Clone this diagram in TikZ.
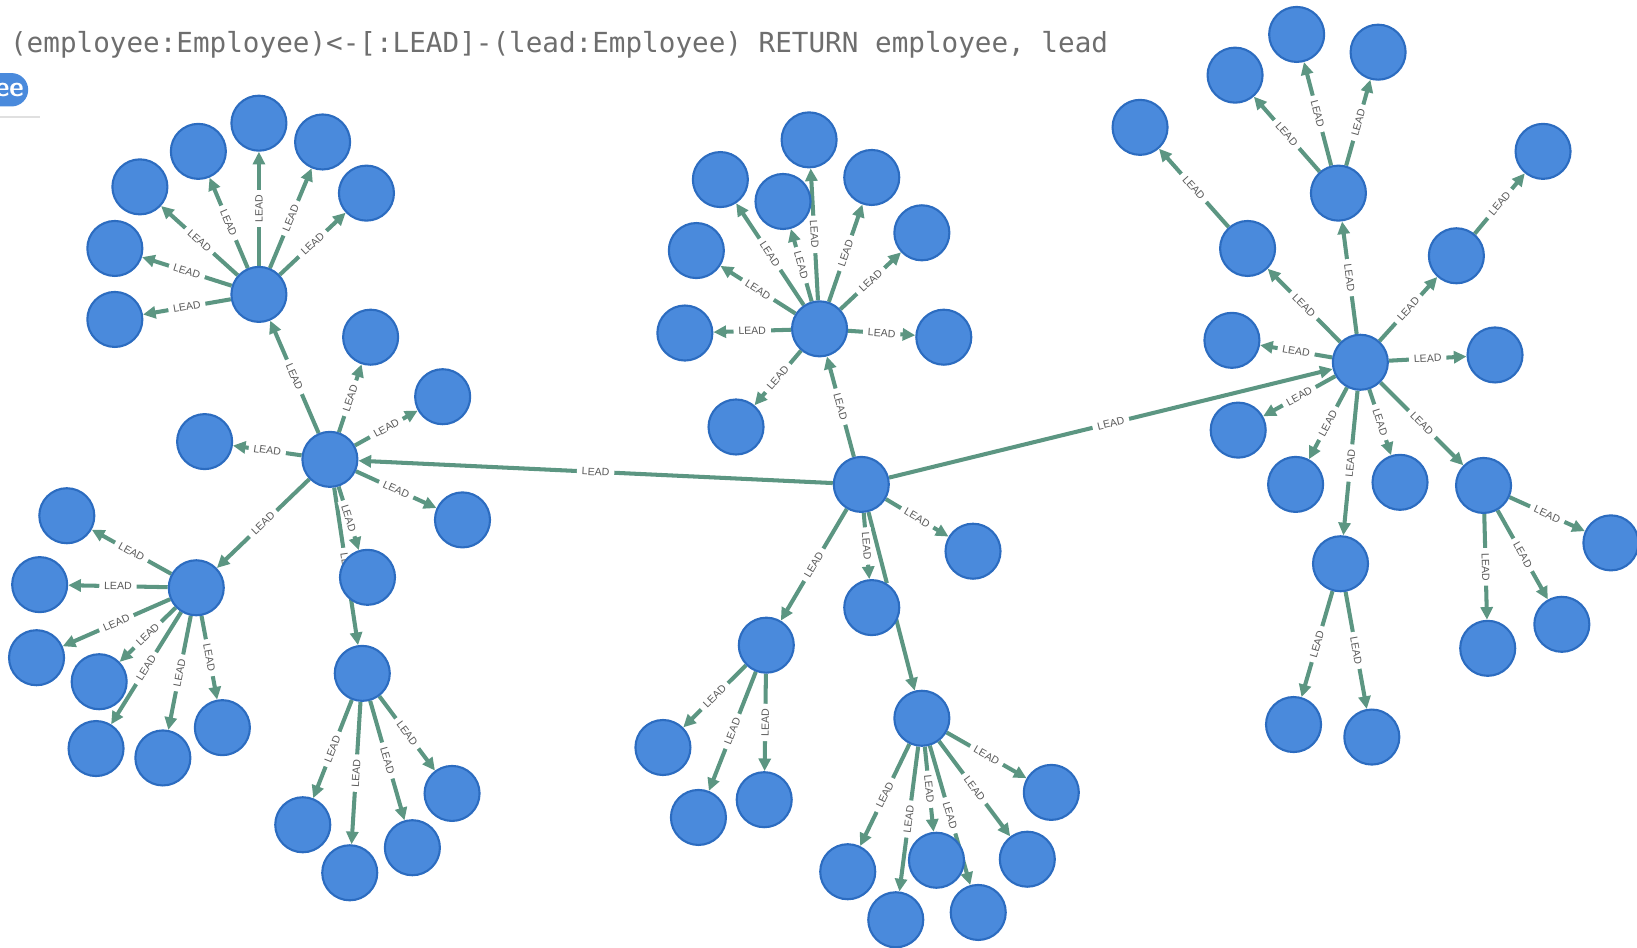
\documentclass[tikz,border=0pt]{standalone}
\usepackage{fontspec}
\usepackage{tikz}
\usepackage{xcolor}
\usetikzlibrary{arrows.meta,backgrounds}
\newfontfamily\codefont{DejaVu Sans Mono}
\newfontfamily\tagfont{Liberation Sans}
\definecolor{nodeblue}{RGB}{74,138,220}
\definecolor{nodeline}{RGB}{44,108,192}
\definecolor{leadgreen}{RGB}{92,150,130}
\definecolor{querygray}{RGB}{110,110,110}
\tikzset{
  emp/.style={circle,fill=nodeblue,draw=nodeline,line width=0.6pt,minimum size=0.55cm,inner sep=0pt},
  lead/.style={->,draw=leadgreen,line width=1.15pt},
  tag/.style={midway,sloped,fill=white,inner xsep=1.4pt,inner ysep=0.6pt,text=black!65,font=\tagfont\fontsize{3}{3.5}\selectfont}
}

\begin{document}
\begin{tikzpicture}[x=0.01044cm,y=-0.01044cm,>={Triangle[length=3.6pt,width=3.4pt]}]
        \useasboundingbox (0,0) rectangle (1568,908);

        % Draw the query line
        \node[anchor=base west,inner sep=0pt,text=querygray,font=\codefont\fontsize{7.86}{9}\selectfont] (query) at (9,50)
          {(employee:Employee)<-[:LEAD]-(lead:Employee) RETURN employee, lead};

        % Draw the label pill
        \fill[nodeblue,rounded corners=0.167cm] (-40,70) rectangle (27,102);
        \node[text=white,inner sep=0pt,font=\sffamily\bfseries\fontsize{8}{9}\selectfont] (pill) at (9,86) {ee};
        \draw[black!12,line width=0.6pt] (0,112) -- (38,112);

        % Draw left clusters
        \node[emp] (a) at (248,282) {};
        \node[emp] (a1) at (110,306) {};  \node[emp] (a2) at (110,238) {};
        \node[emp] (a3) at (134,179) {};  \node[emp] (a4) at (190,145) {};
        \node[emp] (a5) at (248,118) {};  \node[emp] (a6) at (309,136) {};
        \node[emp] (a7) at (351,185) {};
        \node[emp] (b) at (316,440) {};
        \node[emp] (b1) at (355,323) {};  \node[emp] (b2) at (424,380) {};
        \node[emp] (b3) at (443,498) {};  \node[emp] (b4) at (196,423) {};
        \node[emp] (b5) at (352,553) {};
        \node[emp] (c) at (188,563) {};
        \node[emp] (c1) at (64,494) {};   \node[emp] (c2) at (38,560) {};
        \node[emp] (c3) at (35,630) {};   \node[emp] (c4) at (95,653) {};
        \node[emp] (c5) at (92,717) {};   \node[emp] (c6) at (156,726) {};
        \node[emp] (c7) at (213,697) {};
        \node[emp] (e) at (347,645) {};
        \node[emp] (e1) at (290,790) {};  \node[emp] (e2) at (335,836) {};
        \node[emp] (e3) at (395,812) {};  \node[emp] (e4) at (433,760) {};

        % Draw middle clusters
        \node[emp] (d) at (825,464) {};
        \node[emp] (d1) at (932,528) {};  \node[emp] (d2) at (835,582) {};
        \node[emp] (g) at (785,315) {};
        \node[emp] (g1) at (775,134) {};  \node[emp] (g2) at (835,170) {};
        \node[emp] (g3) at (883,223) {};  \node[emp] (g4) at (904,323) {};
        \node[emp] (g5) at (705,409) {};  \node[emp] (g6) at (656,319) {};
        \node[emp] (g7) at (667,240) {};  \node[emp] (g8) at (690,172) {};
        \node[emp] (g9) at (750,193) {};
        \node[emp] (h) at (734,618) {};
        \node[emp] (h1) at (635,716) {};  \node[emp] (h2) at (669,783) {};
        \node[emp] (h3) at (732,766) {};
        \node[emp] (i) at (883,688) {};
        \node[emp] (i1) at (812,835) {};  \node[emp] (i2) at (858,881) {};
        \node[emp] (i3) at (897,824) {};  \node[emp] (i4) at (937,874) {};
        \node[emp] (i5) at (984,823) {};  \node[emp] (i6) at (1007,759) {};

        % Draw right clusters
        \node[emp] (f) at (1303,347) {};
        \node[emp] (f1) at (1432,340) {}; \node[emp] (f2) at (1180,326) {};
        \node[emp] (f3) at (1186,412) {}; \node[emp] (f4) at (1241,464) {};
        \node[emp] (f5) at (1341,462) {};
        \node[emp] (j) at (1282,185) {};
        \node[emp] (j1) at (1183,72) {};  \node[emp] (j2) at (1242,33) {};
        \node[emp] (j3) at (1320,50) {};
        \node[emp] (m) at (1195,238) {};  \node[emp] (m1) at (1092,122) {};
        \node[emp] (n) at (1395,245) {};  \node[emp] (n1) at (1478,145) {};
        \node[emp] (k) at (1421,465) {};
        \node[emp] (k1) at (1425,621) {}; \node[emp] (k2) at (1496,598) {};
        \node[emp] (k3) at (1543,520) {};
        \node[emp] (l) at (1284,540) {};
        \node[emp] (l1) at (1239,694) {}; \node[emp] (l2) at (1314,706) {};

        % Draw LEAD arrows under the nodes
        \begin{pgfonlayer}{background}
          \foreach \n in {b,f,g,h,i,d1,d2} \draw[lead] (d) -- (\n) node[tag] {LEAD};
          \foreach \n in {a,c,e,b1,b2,b3,b4,b5} \draw[lead] (b) -- (\n) node[tag] {LEAD};
          \foreach \n in {1,...,7} \draw[lead] (a) -- (a\n) node[tag] {LEAD};
          \foreach \n in {1,...,7} \draw[lead] (c) -- (c\n) node[tag] {LEAD};
          \foreach \n in {1,...,4} \draw[lead] (e) -- (e\n) node[tag] {LEAD};
          \foreach \n in {1,...,9} \draw[lead] (g) -- (g\n) node[tag] {LEAD};
          \foreach \n in {1,...,3} \draw[lead] (h) -- (h\n) node[tag] {LEAD};
          \foreach \n in {1,...,6} \draw[lead] (i) -- (i\n) node[tag] {LEAD};
          \foreach \n in {j,m,n,k,l,f1,f2,f3,f4,f5} \draw[lead] (f) -- (\n) node[tag] {LEAD};
          \foreach \n in {1,...,3} \draw[lead] (j) -- (j\n) node[tag] {LEAD};
          \foreach \n in {1,...,3} \draw[lead] (k) -- (k\n) node[tag] {LEAD};
          \foreach \n in {1,2} \draw[lead] (l) -- (l\n) node[tag] {LEAD};
          \draw[lead] (m) -- (m1) node[tag] {LEAD};
          \draw[lead] (n) -- (n1) node[tag] {LEAD};
        \end{pgfonlayer}
    \end{tikzpicture}
\end{document}
